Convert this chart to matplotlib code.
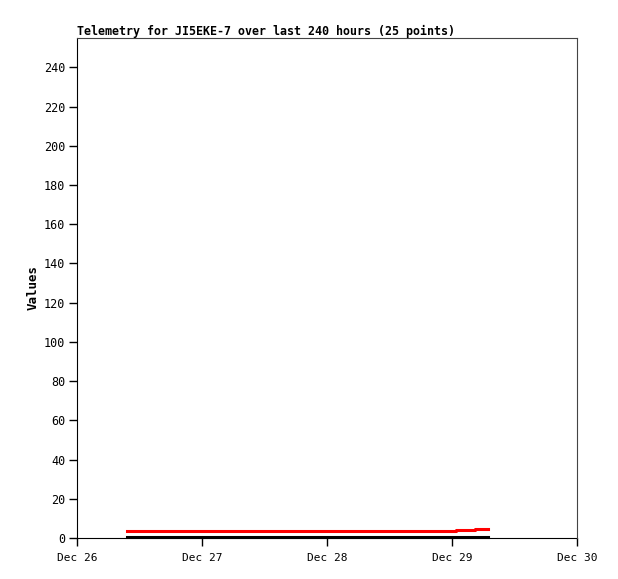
import datetime as dt
import matplotlib
matplotlib.use('Agg')
from matplotlib import pyplot as plt

# hours after Dec 26 00:00 for each of the 25 points
hours = [9.6, 12.5, 15.4, 18.3, 21.2, 24.1, 27.0, 29.9, 32.8, 35.7,
         38.6, 41.5, 44.4, 47.3, 50.2, 53.1, 56.0, 58.9, 61.8, 64.7,
         67.6, 70.2, 72.7, 76.5, 79.0]
red_vals = [3.7, 3.7, 3.7, 3.7, 3.7, 3.7, 3.7, 3.7, 3.7, 3.7,
            3.7, 3.7, 3.7, 3.7, 3.7, 3.7, 3.7, 3.7, 3.7, 3.7,
            3.7, 3.7, 4.2, 4.8, 4.8]
black_vals = [0.5] * 25
xtick_labels = ['Dec 26', 'Dec 27', 'Dec 28', 'Dec 29', 'Dec 30']

start = dt.datetime(2023, 12, 26)
times = [start + dt.timedelta(hours=h) for h in hours]
xticks = [start + dt.timedelta(days=i) for i in range(5)]

plt.rcParams['font.family'] = 'DejaVu Sans Mono'

fig = plt.figure(figsize=(6.18, 5.79), dpi=100)
ax = fig.add_axes([77/618, 41/579, 500/618, 500/579])

ax.plot(times, black_vals, color='black', linewidth=2.2, drawstyle='steps-post',
        zorder=3, clip_on=False)
ax.plot(times, red_vals, color='#ff0000', linewidth=2.2, drawstyle='steps-post',
        zorder=3)

ax.set_xlim(xticks[0], xticks[-1])
ax.set_ylim(0, 255)
ax.set_yticks(range(0, 241, 20))
ax.set_xticks(xticks)
ax.set_xticklabels(xtick_labels)
ax.tick_params(axis='both', direction='out', length=5.5, width=1, labelsize=8.5, pad=3)
ax.tick_params(axis='x', labelsize=8, pad=5)

for s in ['top', 'right']:
    ax.spines[s].set_color('#444444')
for s in ['left', 'bottom']:
    ax.spines[s].set_color('black')
    ax.spines[s].set_zorder(2)

ax.set_title('Telemetry for JI5EKE-7 over last 240 hours (25 points)',
             loc='left', fontsize=8.4, fontweight='bold', pad=2)
ax.set_ylabel('Values', fontsize=9, fontweight='bold', labelpad=3)

fig.savefig('out.png', dpi=100)
